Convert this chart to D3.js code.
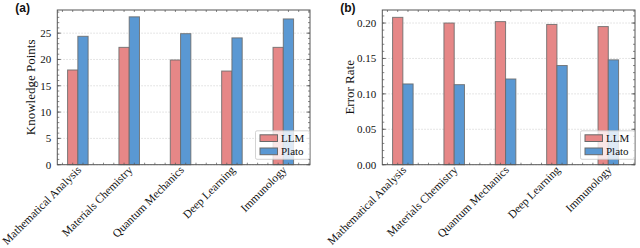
<!DOCTYPE html>
<html><head><meta charset="utf-8">
<script src="https://cdn.jsdelivr.net/npm/d3@7"></script>
<style>body{margin:0;background:#fff}svg{display:block}</style>
</head><body>
<svg id="c" width="640" height="248"></svg>
<script>
const categories = ["Mathematical Analysis","Materials Chemistry","Quantum Mechanics","Deep Learning","Immunology"];
const seriesNames = ["LLM","Plato"];
const knowledgeLLM = [18.0, 22.3, 19.9, 17.8, 22.3];
const knowledgePlato = [24.4, 28.1, 24.9, 24.1, 27.7];
const errorLLM = [0.208, 0.200, 0.202, 0.198, 0.195];
const errorPlato = [0.114, 0.113, 0.121, 0.140, 0.148];
const knowledgeTicks = [0, 5, 10, 15, 20, 25];
const errorTicks = [0.00, 0.05, 0.10, 0.15, 0.20];

const colors = ["#E68787", "#5A98D3"];
const serif = "'Liberation Serif', 'Times New Roman', serif";
const svg = d3.select("#c");

function panel(opt) {
  const {left, right, top, bottom, yMax, yTicks, yFmt, minorStep, ylabel, ylabelOff, tag, series} = opt;
  const g = svg.append("g");
  const x = d3.scaleLinear().domain([-0.3, 4.62]).range([left, right]);
  const y = d3.scaleLinear().domain([0, yMax]).range([bottom, top]);
  const bw = x(0.2) - x(0);

  g.selectAll(".grid").data(yTicks).join("line")
    .attr("x1", left).attr("x2", right)
    .attr("y1", d => y(d)).attr("y2", d => y(d))
    .attr("stroke", "#cfcfcf").attr("stroke-width", 0.7).attr("stroke-dasharray", "1.5,1.5");

  series.forEach((vals, s) => {
    g.selectAll(".b" + s).data(vals).join("rect")
      .attr("x", (d, i) => x(i + 0.2 * s) - bw / 2)
      .attr("width", bw)
      .attr("y", d => y(d))
      .attr("height", d => y(0) - y(d))
      .attr("fill", colors[s])
      .attr("stroke", "#6a6a6a").attr("stroke-opacity", 0.85).attr("stroke-width", 1);
  });

  g.append("rect").attr("x", left).attr("y", top).attr("width", right - left).attr("height", bottom - top)
    .attr("fill", "none").attr("stroke", "#555").attr("stroke-width", 1);

  const minor = d3.range(0, yMax + 1e-9, minorStep);
  [[left, 1], [right, -1]].forEach(([ax, dir]) => {
    g.selectAll(null).data(minor).join("line")
      .attr("x1", ax).attr("x2", ax + dir * 2)
      .attr("y1", d => y(d)).attr("y2", d => y(d))
      .attr("stroke", "#555").attr("stroke-width", 0.7);
    g.selectAll(null).data(yTicks).join("line")
      .attr("x1", ax).attr("x2", ax + dir * 3.5)
      .attr("y1", d => y(d)).attr("y2", d => y(d))
      .attr("stroke", "#555").attr("stroke-width", 0.8);
  });
  const xt = d3.range(-0.2, 4.61, 0.2);
  [[top, 1], [bottom, -1]].forEach(([ay, dir]) => {
    g.selectAll(null).data(xt).join("line")
      .attr("y1", ay).attr("y2", ay + dir * 2)
      .attr("x1", d => x(d)).attr("x2", d => x(d))
      .attr("stroke", "#555").attr("stroke-width", 0.7);
  });

  g.selectAll(".yl").data(yTicks).join("text")
    .attr("x", left - 6).attr("y", d => y(d)).attr("dy", "0.35em")
    .attr("text-anchor", "end").attr("font-family", serif).attr("font-size", 11).attr("fill", "#111")
    .text(yFmt);

  g.selectAll(".xl").data(categories).join("text")
    .attr("transform", (d, i) => `translate(${x(i + 0.1) + 4},${bottom + 6}) rotate(-45)`)
    .attr("text-anchor", "end").attr("font-family", serif).attr("font-size", 11.5).attr("fill", "#111")
    .text(d => d);

  g.append("text")
    .attr("transform", `translate(${left - ylabelOff},${(top + bottom) / 2}) rotate(-90)`)
    .attr("text-anchor", "middle").attr("font-family", serif).attr("font-size", 13).attr("fill", "#111")
    .text(ylabel);

  g.append("text").attr("x", left - 42).attr("y", 12)
    .attr("font-family", "'Liberation Sans', Arial, sans-serif").attr("font-weight", "bold")
    .attr("font-size", 12).attr("fill", "#111").text(tag);

  const lw = 54, lh = 28.5;
  const lx = right - 0.5 - lw, ly = bottom - 5.4 - lh;
  const leg = g.append("g").attr("transform", `translate(${lx},${ly})`);
  leg.append("rect").attr("width", lw).attr("height", lh).attr("rx", 1.5)
    .attr("fill", "#fff").attr("fill-opacity", 0.8).attr("stroke", "#c8c8c8").attr("stroke-width", 0.8);
  seriesNames.forEach((n, s) => {
    leg.append("rect").attr("x", 4.5).attr("y", 4 + s * 13.2).attr("width", 17.5).attr("height", 6.7)
      .attr("fill", colors[s]).attr("stroke", "#6a6a6a").attr("stroke-width", 1);
    leg.append("text").attr("x", 25.5).attr("y", 4 + s * 13.2 + 3.4).attr("dy", "0.35em")
      .attr("font-family", serif).attr("font-size", 11).attr("fill", "#111").text(n);
  });
}

panel({left: 57.3, right: 310, top: 10, bottom: 164.7, yMax: 29.4, yTicks: knowledgeTicks,
  yFmt: d => d3.format("d")(d), minorStep: 1, ylabel: "Knowledge Points", ylabelOff: 22, tag: "(a)",
  series: [knowledgeLLM, knowledgePlato]});
panel({left: 382.3, right: 635, top: 10, bottom: 164.7, yMax: 0.2184, yTicks: errorTicks,
  yFmt: d => d3.format(".2f")(d), minorStep: 0.01, ylabel: "Error Rate", ylabelOff: 28, tag: "(b)",
  series: [errorLLM, errorPlato]});
</script>
</body></html>
